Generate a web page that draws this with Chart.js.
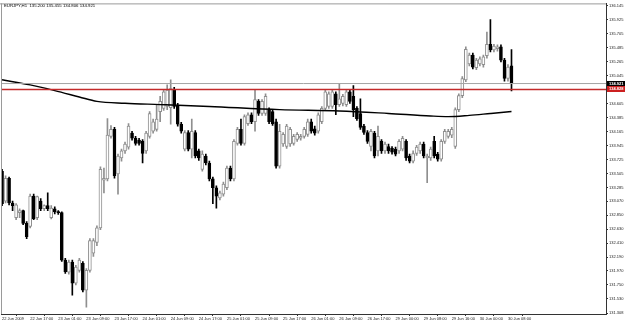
<!DOCTYPE html>
<html>
<head>
<meta charset="utf-8">
<title>EURJPY H1</title>
<script src="https://cdn.jsdelivr.net/npm/chart.js@4.4.1/dist/chart.umd.min.js"></script>
<style>
  html, body { margin: 0; padding: 0; background: #fff; }
  #wrap { width: 625px; height: 323px; }
</style>
</head>
<body>
<div id="wrap"><canvas id="viz" width="625" height="323"></canvas></div>
<script>
// EURJPY,H1 - 22 Jun 2009 09:00 .. 30 Jun 2009 09:00 (one value per hourly bar)
const opens = [
  133.54, 133.07, 133.43, 133.04, 132.81, 132.89, 132.92, 132.72, 132.67, 133.15,
  132.81, 133.07, 132.95, 133.00, 132.81, 132.95, 132.90, 132.89, 132.14, 131.95,
  132.11, 131.78, 131.98, 132.09, 131.67, 131.98, 132.25, 132.42, 132.65, 133.40,
  133.42, 134.09, 134.20, 133.50, 133.75, 133.86, 133.92, 134.14, 134.06, 134.03,
  134.01, 133.86, 134.09, 134.17, 134.20, 134.48, 134.53, 134.56, 134.54, 134.82,
  134.57, 134.28, 133.89, 134.15, 133.89, 134.15, 133.86, 133.57, 133.78, 133.67,
  133.42, 133.28, 133.12, 133.18, 133.28, 133.59, 133.42, 133.98, 134.20, 133.98,
  134.29, 134.43, 134.32, 134.64, 134.45, 134.45, 134.51, 134.48, 134.32, 133.62,
  133.97, 133.93, 133.97, 133.98, 134.04, 134.06, 134.09, 134.12, 134.32, 134.21,
  134.17, 134.32, 134.53, 134.56, 134.56, 134.76, 134.59, 134.61, 134.59, 134.79,
  134.72, 134.53, 134.45, 134.25, 134.15, 133.93, 134.14, 133.86, 134.01, 133.86,
  133.93, 133.90, 133.89, 133.86, 133.89, 134.01, 133.78, 133.70, 133.82, 133.86,
  133.97, 133.75, 133.75, 134.01, 133.81, 133.73, 134.01, 134.09, 134.11, 133.93,
  134.51, 134.73, 134.98, 135.23, 135.37, 135.17, 135.23, 135.22, 135.36, 135.54,
  135.45, 135.47, 135.50, 135.29, 135.00, 135.200
];
const highs = [
  133.57, 133.47, 133.45, 133.07, 133.03, 132.95, 132.93, 132.75, 133.18, 133.18,
  133.15, 133.11, 133.01, 133.20, 133.00, 132.98, 132.92, 132.90, 132.17, 132.14,
  132.14, 132.06, 132.17, 132.12, 132.01, 132.48, 132.48, 132.68, 133.61, 133.59,
  134.37, 134.26, 134.23, 133.81, 133.89, 134.00, 134.29, 134.17, 134.09, 134.06,
  134.04, 134.17, 134.48, 134.36, 134.59, 134.72, 134.82, 134.90, 134.98, 134.86,
  134.61, 134.31, 134.18, 134.18, 134.36, 134.18, 133.89, 133.86, 133.81, 133.70,
  133.45, 133.31, 133.23, 133.37, 133.62, 133.62, 134.04, 134.23, 134.36, 134.43,
  134.46, 134.46, 134.82, 134.67, 134.67, 134.76, 134.54, 134.51, 134.36, 134.28,
  134.15, 134.28, 134.23, 134.12, 134.15, 134.12, 134.23, 134.36, 134.36, 134.25,
  134.46, 134.56, 134.82, 134.79, 134.82, 134.79, 134.92, 134.75, 134.82, 134.82,
  134.89, 134.56, 134.68, 134.28, 134.18, 134.20, 134.17, 134.25, 134.04, 134.00,
  133.97, 133.93, 133.92, 134.04, 134.09, 134.04, 133.81, 133.86, 133.95, 134.00,
  134.00, 133.81, 133.92, 134.09, 133.84, 134.04, 134.20, 134.20, 134.23, 134.54,
  134.76, 135.03, 135.50, 135.40, 135.40, 135.32, 135.34, 135.37, 135.73, 135.93,
  135.54, 135.53, 135.53, 135.32, 135.22, 135.455
];
const lows = [
  133.00, 133.04, 133.01, 132.92, 132.78, 132.81, 132.70, 132.48, 132.65, 132.78,
  132.78, 132.92, 132.92, 132.92, 132.79, 132.87, 132.86, 132.12, 131.93, 131.92,
  131.59, 131.75, 131.95, 131.64, 131.40, 131.95, 132.20, 132.37, 132.62, 133.20,
  133.39, 134.06, 133.43, 133.18, 133.70, 133.82, 133.89, 134.03, 133.95, 133.95,
  133.67, 133.82, 134.06, 134.14, 134.17, 134.32, 134.50, 134.51, 134.28, 134.53,
  134.25, 134.14, 133.86, 133.86, 133.75, 133.75, 133.71, 133.54, 133.64, 133.39,
  133.03, 132.96, 133.09, 133.15, 133.25, 133.39, 133.39, 133.95, 133.95, 133.95,
  134.26, 134.29, 134.17, 134.42, 134.42, 134.42, 134.29, 134.26, 133.59, 133.59,
  133.93, 133.90, 133.93, 133.95, 134.01, 134.03, 134.06, 134.09, 134.14, 134.11,
  134.14, 134.29, 134.50, 134.53, 134.53, 134.43, 134.56, 134.57, 134.56, 134.61,
  134.40, 134.34, 134.20, 134.12, 133.98, 133.86, 133.75, 133.78, 133.82, 133.82,
  133.82, 133.81, 133.78, 133.82, 133.86, 133.71, 133.67, 133.67, 133.79, 133.82,
  133.75, 133.36, 133.71, 133.75, 133.70, 133.70, 133.98, 134.06, 134.07, 133.90,
  134.48, 134.70, 134.95, 135.20, 135.15, 135.14, 135.20, 135.18, 135.32, 135.42,
  135.42, 135.43, 135.26, 134.96, 134.96, 134.806
];
const closes = [
  133.03, 133.43, 133.04, 133.00, 133.01, 132.92, 132.72, 132.51, 133.15, 132.79,
  133.14, 132.95, 133.00, 132.95, 132.96, 132.90, 132.89, 132.14, 131.96, 132.11,
  131.78, 132.03, 132.14, 131.67, 131.98, 132.45, 132.45, 132.65, 133.57, 133.43,
  134.11, 134.20, 133.47, 133.78, 133.86, 133.97, 134.25, 134.06, 133.98, 133.98,
  133.82, 134.14, 134.45, 134.32, 134.36, 134.64, 134.79, 134.82, 134.84, 134.56,
  134.28, 134.17, 134.15, 133.89, 134.17, 133.78, 133.75, 133.81, 133.67, 133.42,
  133.28, 133.15, 133.20, 133.34, 133.59, 133.42, 134.01, 134.20, 133.98, 134.40,
  134.43, 134.32, 134.67, 134.45, 134.64, 134.72, 134.32, 134.29, 133.62, 134.17,
  134.12, 134.25, 134.20, 134.09, 134.12, 134.09, 134.20, 134.32, 134.17, 134.14,
  134.43, 134.53, 134.79, 134.76, 134.79, 134.59, 134.68, 134.72, 134.79, 134.64,
  134.51, 134.37, 134.23, 134.15, 134.01, 134.17, 133.78, 134.09, 133.86, 133.97,
  133.86, 133.84, 133.81, 134.01, 134.06, 133.75, 133.70, 133.82, 133.92, 133.97,
  133.78, 133.78, 133.89, 133.78, 133.73, 134.01, 134.17, 134.17, 134.20, 134.51,
  134.73, 135.00, 135.46, 135.37, 135.18, 135.29, 135.31, 135.34, 135.54, 135.45,
  135.51, 135.50, 135.29, 135.00, 135.18, 134.921
];

// moving average, read at a few bars along the curve
const maBars = [0, 8, 15, 22, 27, 35, 45, 59, 79, 96, 110, 122, 127, 133, 139, 145];
const maValues = [134.98, 134.90, 134.81, 134.71, 134.64, 134.61, 134.59, 134.56, 134.51, 134.49, 134.45, 134.41, 134.40, 134.42, 134.45, 134.48];

// time axis labels, one every 8 bars
const xTickBars = [0, 8, 16, 24, 32, 40, 48, 56, 64, 72, 80, 88, 96, 104, 112, 120, 128, 136, 144];
const xTickLabels = [
  '22 Jun 2009', '22 Jun 17:00', '23 Jun 01:00', '23 Jun 09:00', '23 Jun 17:00',
  '24 Jun 01:00', '24 Jun 09:00', '24 Jun 17:00', '25 Jun 01:00', '25 Jun 09:00',
  '25 Jun 17:00', '26 Jun 01:00', '26 Jun 09:00', '26 Jun 17:00', '29 Jun 00:00',
  '29 Jun 08:00', '29 Jun 16:00', '30 Jun 00:00', '30 Jun 08:00'
];
// price scale labels
const yTickValues = [
  136.145, 135.925, 135.705, 135.485, 135.265, 135.045, 134.605, 134.385, 134.165,
  133.945, 133.725, 133.505, 133.285, 133.070, 132.850, 132.630, 132.410, 132.190,
  131.970, 131.750, 131.530, 131.308
];

const bidPrice = 134.921;
const levelPrice = 134.828;
const titleText = 'EURJPY,H1  135.200 135.455 134.806 134.921';

const xMin = -0.3, xMax = 171.9;
const yMin = 131.293, yMax = 136.183;

const upColor = '#8f8f8f';
const downColor = '#000000';
const isUp = opens.map((o, i) => closes[i] >= o);
const barIdx = opens.map((o, i) => i);

// frame, title and the price tags on the right scale
const mtDecor = {
  id: 'mtDecor',
  afterDraw(chart) {
    const { ctx, chartArea } = chart;
    const y = chart.scales.y;
    ctx.save();
    ctx.strokeStyle = '#9a9a9a';
    ctx.lineWidth = 1;
    ctx.beginPath();
    ctx.moveTo(0, chartArea.top + 0.5);
    ctx.lineTo(chartArea.right, chartArea.top + 0.5);
    ctx.moveTo(chartArea.left + 0.5, chartArea.top);
    ctx.lineTo(chartArea.left + 0.5, chartArea.bottom);
    ctx.stroke();

    ctx.fillStyle = '#000';
    ctx.font = '4.3px "Liberation Sans", Arial, sans-serif';
    ctx.textBaseline = 'middle';
    ctx.textAlign = 'left';
    ctx.fillText(titleText, 4, 5.5);

    const tags = [[bidPrice, '#000000'], [levelPrice, '#cc2020']];
    ctx.font = 'bold 4px "Liberation Sans", Arial, sans-serif';
    tags.forEach(([p, bg]) => {
      const py = y.getPixelForValue(p);
      ctx.fillStyle = bg;
      ctx.fillRect(chartArea.right + 1, Math.round(py) - 3, 19, 6);
      ctx.fillStyle = '#fff';
      ctx.fillText(p.toFixed(3), chartArea.right + 3, Math.round(py));
    });
    ctx.restore();
  }
};

const ctx = document.getElementById('viz');
const chart = new Chart(ctx, {
  type: 'bar',
  data: {
    datasets: [
      {
        type: 'line',
        label: 'bid',
        data: [{ x: xMin, y: bidPrice }, { x: xMax, y: bidPrice }],
        borderColor: '#a4a4a4',
        borderWidth: 1,
        pointRadius: 0,
        order: 0
      },
      {
        type: 'line',
        label: 'level',
        data: [{ x: xMin, y: levelPrice }, { x: xMax, y: levelPrice }],
        borderColor: '#c42a2a',
        borderWidth: 1.6,
        pointRadius: 0,
        order: 0
      },
      {
        type: 'line',
        label: 'MA',
        data: maBars.map((b, k) => ({ x: b, y: maValues[k] })),
        borderColor: '#000',
        borderWidth: 1.4,
        pointRadius: 0,
        cubicInterpolationMode: 'monotone',
        order: 0
      },
      {
        label: 'body',
        data: barIdx.map(i => ({ x: i, y: [opens[i], closes[i]] })),
        backgroundColor: isUp.map(u => u ? '#ffffff' : downColor),
        borderColor: isUp.map(u => u ? upColor : downColor),
        borderWidth: 1,
        borderSkipped: false,
        barThickness: 3,
        minBarLength: 1,
        grouped: false,
        order: 1
      },
      {
        label: 'wick',
        data: barIdx.map(i => ({ x: i, y: [lows[i], highs[i]] })),
        backgroundColor: isUp.map(u => u ? upColor : downColor),
        borderWidth: 0,
        barThickness: 1,
        grouped: false,
        order: 2
      }
    ]
  },
  options: {
    responsive: false,
    animation: false,
    devicePixelRatio: 1,
    layout: { padding: { left: 1, top: 1, right: 0, bottom: 0 } },
    plugins: {
      legend: { display: false },
      tooltip: { enabled: false }
    },
    scales: {
      x: {
        type: 'linear',
        min: xMin,
        max: xMax,
        offset: false,
        afterBuildTicks: (scale) => { scale.ticks = xTickBars.map(v => ({ value: v })); },
        afterFit: (scale) => { scale.height = 9; },
        ticks: {
          autoSkip: false,
          maxRotation: 0,
          minRotation: 0,
          align: 'start',
          padding: 0,
          color: '#222',
          font: { size: 4, family: '"Liberation Sans", Arial, sans-serif' },
          callback: (v) => xTickLabels[xTickBars.indexOf(v)]
        },
        grid: { drawOnChartArea: false, tickLength: 2, color: '#333' },
        border: { color: '#333' }
      },
      y: {
        position: 'right',
        min: yMin,
        max: yMax,
        afterBuildTicks: (scale) => { scale.ticks = yTickValues.map(v => ({ value: v })); },
        afterFit: (scale) => { scale.width = 19; },
        ticks: {
          autoSkip: false,
          padding: 1,
          color: '#222',
          font: { size: 4, family: '"Liberation Sans", Arial, sans-serif' },
          callback: (v) => v.toFixed(3)
        },
        grid: { drawOnChartArea: false, tickLength: 2, color: '#333' },
        border: { color: '#333' }
      }
    }
  },
  plugins: [mtDecor]
});
</script>
</body>
</html>
